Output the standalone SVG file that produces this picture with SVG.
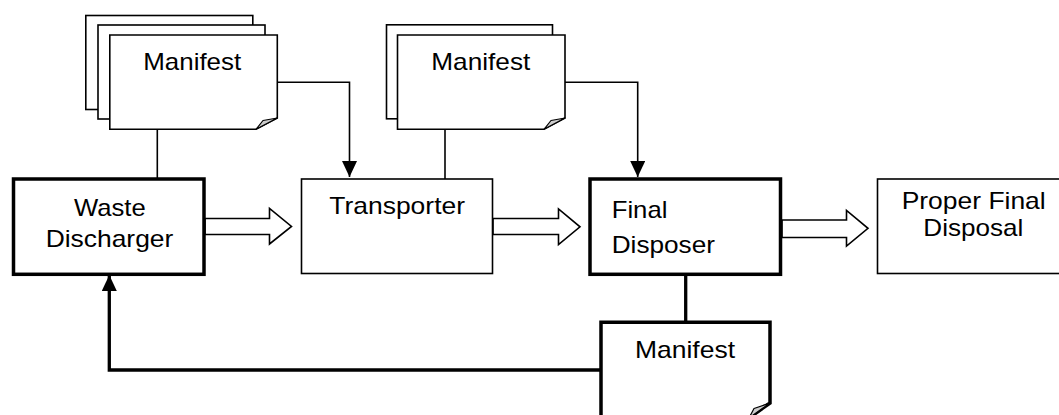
<svg xmlns="http://www.w3.org/2000/svg" width="1059" height="415" viewBox="0 0 1059 415">
  <style>
    .thin { fill: #fff; stroke: #000; stroke-width: 1.6; }
    .thick { fill: #fff; stroke: #000; stroke-width: 3.5; }
    .fold { fill: #ccc; stroke: #000; stroke-width: 1.2; stroke-linejoin: round; }
    .lbl { font-family: "Liberation Sans", Arial, sans-serif; font-size: 24px; fill: #000; }
    .mid { text-anchor: middle; }
    .wire { fill: none; stroke: #000; stroke-width: 1.6; }
    .wire-bold { fill: none; stroke: #000; stroke-width: 3.3; }
    .block { fill: #fff; stroke: #000; stroke-width: 1.6; stroke-linejoin: miter; }
  </style>
  <defs>
    <marker id="tri" viewBox="0 0 16 15" refX="16" refY="7.5" markerWidth="16" markerHeight="15" markerUnits="userSpaceOnUse" orient="auto">
      <path d="M0 0 L16 7.5 L0 15 Z" fill="#000"/>
    </marker>
  </defs>

  <rect width="1059" height="415" fill="#fff"/>

  <!-- connectors -->
  <g id="connectors">
    <!-- manifest stacks tied to their senders -->
    <line class="wire" x1="157.3" y1="130" x2="157.3" y2="178"/>
    <line class="wire" x1="445" y1="130" x2="445" y2="179"/>
    <!-- manifests passed on down the chain -->
    <polyline class="wire" points="277.3,82.3 349.5,82.3 349.5,177" marker-end="url(#tri)"/>
    <polyline class="wire" points="565,82.3 637.7,82.3 637.7,177" marker-end="url(#tri)"/>
    <!-- returned manifest -->
    <line class="wire-bold" x1="685.7" y1="275" x2="685.7" y2="323"/>
    <polyline class="wire-bold" points="601,370 109.3,370 109.3,275" marker-end="url(#tri)"/>
    <!-- waste flow block arrows -->
    <polygon class="block" points="205,218.5 269.5,218.5 269.5,208.5 291.5,226.5 269.5,244 269.5,234.5 205,234.5"/>
    <polygon class="block" points="493,218.5 558.5,218.5 558.5,209 580,226.8 558.5,244.5 558.5,234.5 493,234.5"/>
    <polygon class="block" points="782,220 846.5,220 846.5,210.5 868,228.3 846.5,246 846.5,237.5 782,237.5"/>
  </g>

  <!-- manifest stack, three copies -->
  <g id="manifest-a">
    <rect class="thin" x="85.8" y="15.5" width="167" height="94"/>
    <rect class="thin" x="98" y="25" width="167" height="94"/>
    <path class="thin" d="M109.8 35 H277.3 V118 L256 129.3 H109.8 Z"/>
    <path class="fold" d="M256 129.3 L277.3 118 L263 120.5 Z"/>
    <text class="lbl mid" x="192.2" y="69.5" textLength="98" lengthAdjust="spacingAndGlyphs">Manifest</text>
  </g>

  <!-- manifest stack, two copies -->
  <g id="manifest-b">
    <rect class="thin" x="386.5" y="24.8" width="166" height="94"/>
    <path class="thin" d="M397.5 35 H565 V118 L544 129.3 H397.5 Z"/>
    <path class="fold" d="M544 129.3 L565 118 L551 120.5 Z"/>
    <text class="lbl mid" x="480.8" y="70" textLength="99" lengthAdjust="spacingAndGlyphs">Manifest</text>
  </g>

  <!-- returned manifest copy, bottom edge runs off the page -->
  <g id="manifest-c">
    <path class="thick" stroke-width="3.3" d="M601 440 V322.3 H770 V403 L749 418"/>
    <path class="fold" fill="#fff" stroke-width="2.8" d="M770 403 L749 418 L754 408.5 Z"/>
    <text class="lbl mid" x="685" y="357.7" textLength="100" lengthAdjust="spacingAndGlyphs">Manifest</text>
  </g>

  <g id="waste-discharger">
    <rect class="thick" x="13.5" y="179" width="190.5" height="95.3"/>
    <text class="lbl mid" x="109.8" y="215.5" textLength="71.7" lengthAdjust="spacingAndGlyphs">Waste</text>
    <text class="lbl mid" x="109.5" y="247.3" textLength="127.7" lengthAdjust="spacingAndGlyphs">Discharger</text>
  </g>

  <g id="transporter">
    <rect class="thin" x="301.5" y="179" width="191" height="94.5"/>
    <text class="lbl" x="329.3" y="214" textLength="135.7" lengthAdjust="spacingAndGlyphs">Transporter</text>
  </g>

  <g id="final-disposer">
    <rect class="thick" x="590" y="179" width="190.5" height="95.3"/>
    <text class="lbl" x="611.7" y="218.3" textLength="55.7" lengthAdjust="spacingAndGlyphs">Final</text>
    <text class="lbl" x="611.7" y="252.7" textLength="103.3" lengthAdjust="spacingAndGlyphs">Disposer</text>
  </g>

  <g id="proper-final-disposal">
    <rect class="thin" x="877.5" y="179" width="190" height="94.5"/>
    <text class="lbl mid" x="973.7" y="209" textLength="144" lengthAdjust="spacingAndGlyphs">Proper Final</text>
    <text class="lbl mid" x="973.3" y="235.7" textLength="100" lengthAdjust="spacingAndGlyphs">Disposal</text>
  </g>
</svg>
